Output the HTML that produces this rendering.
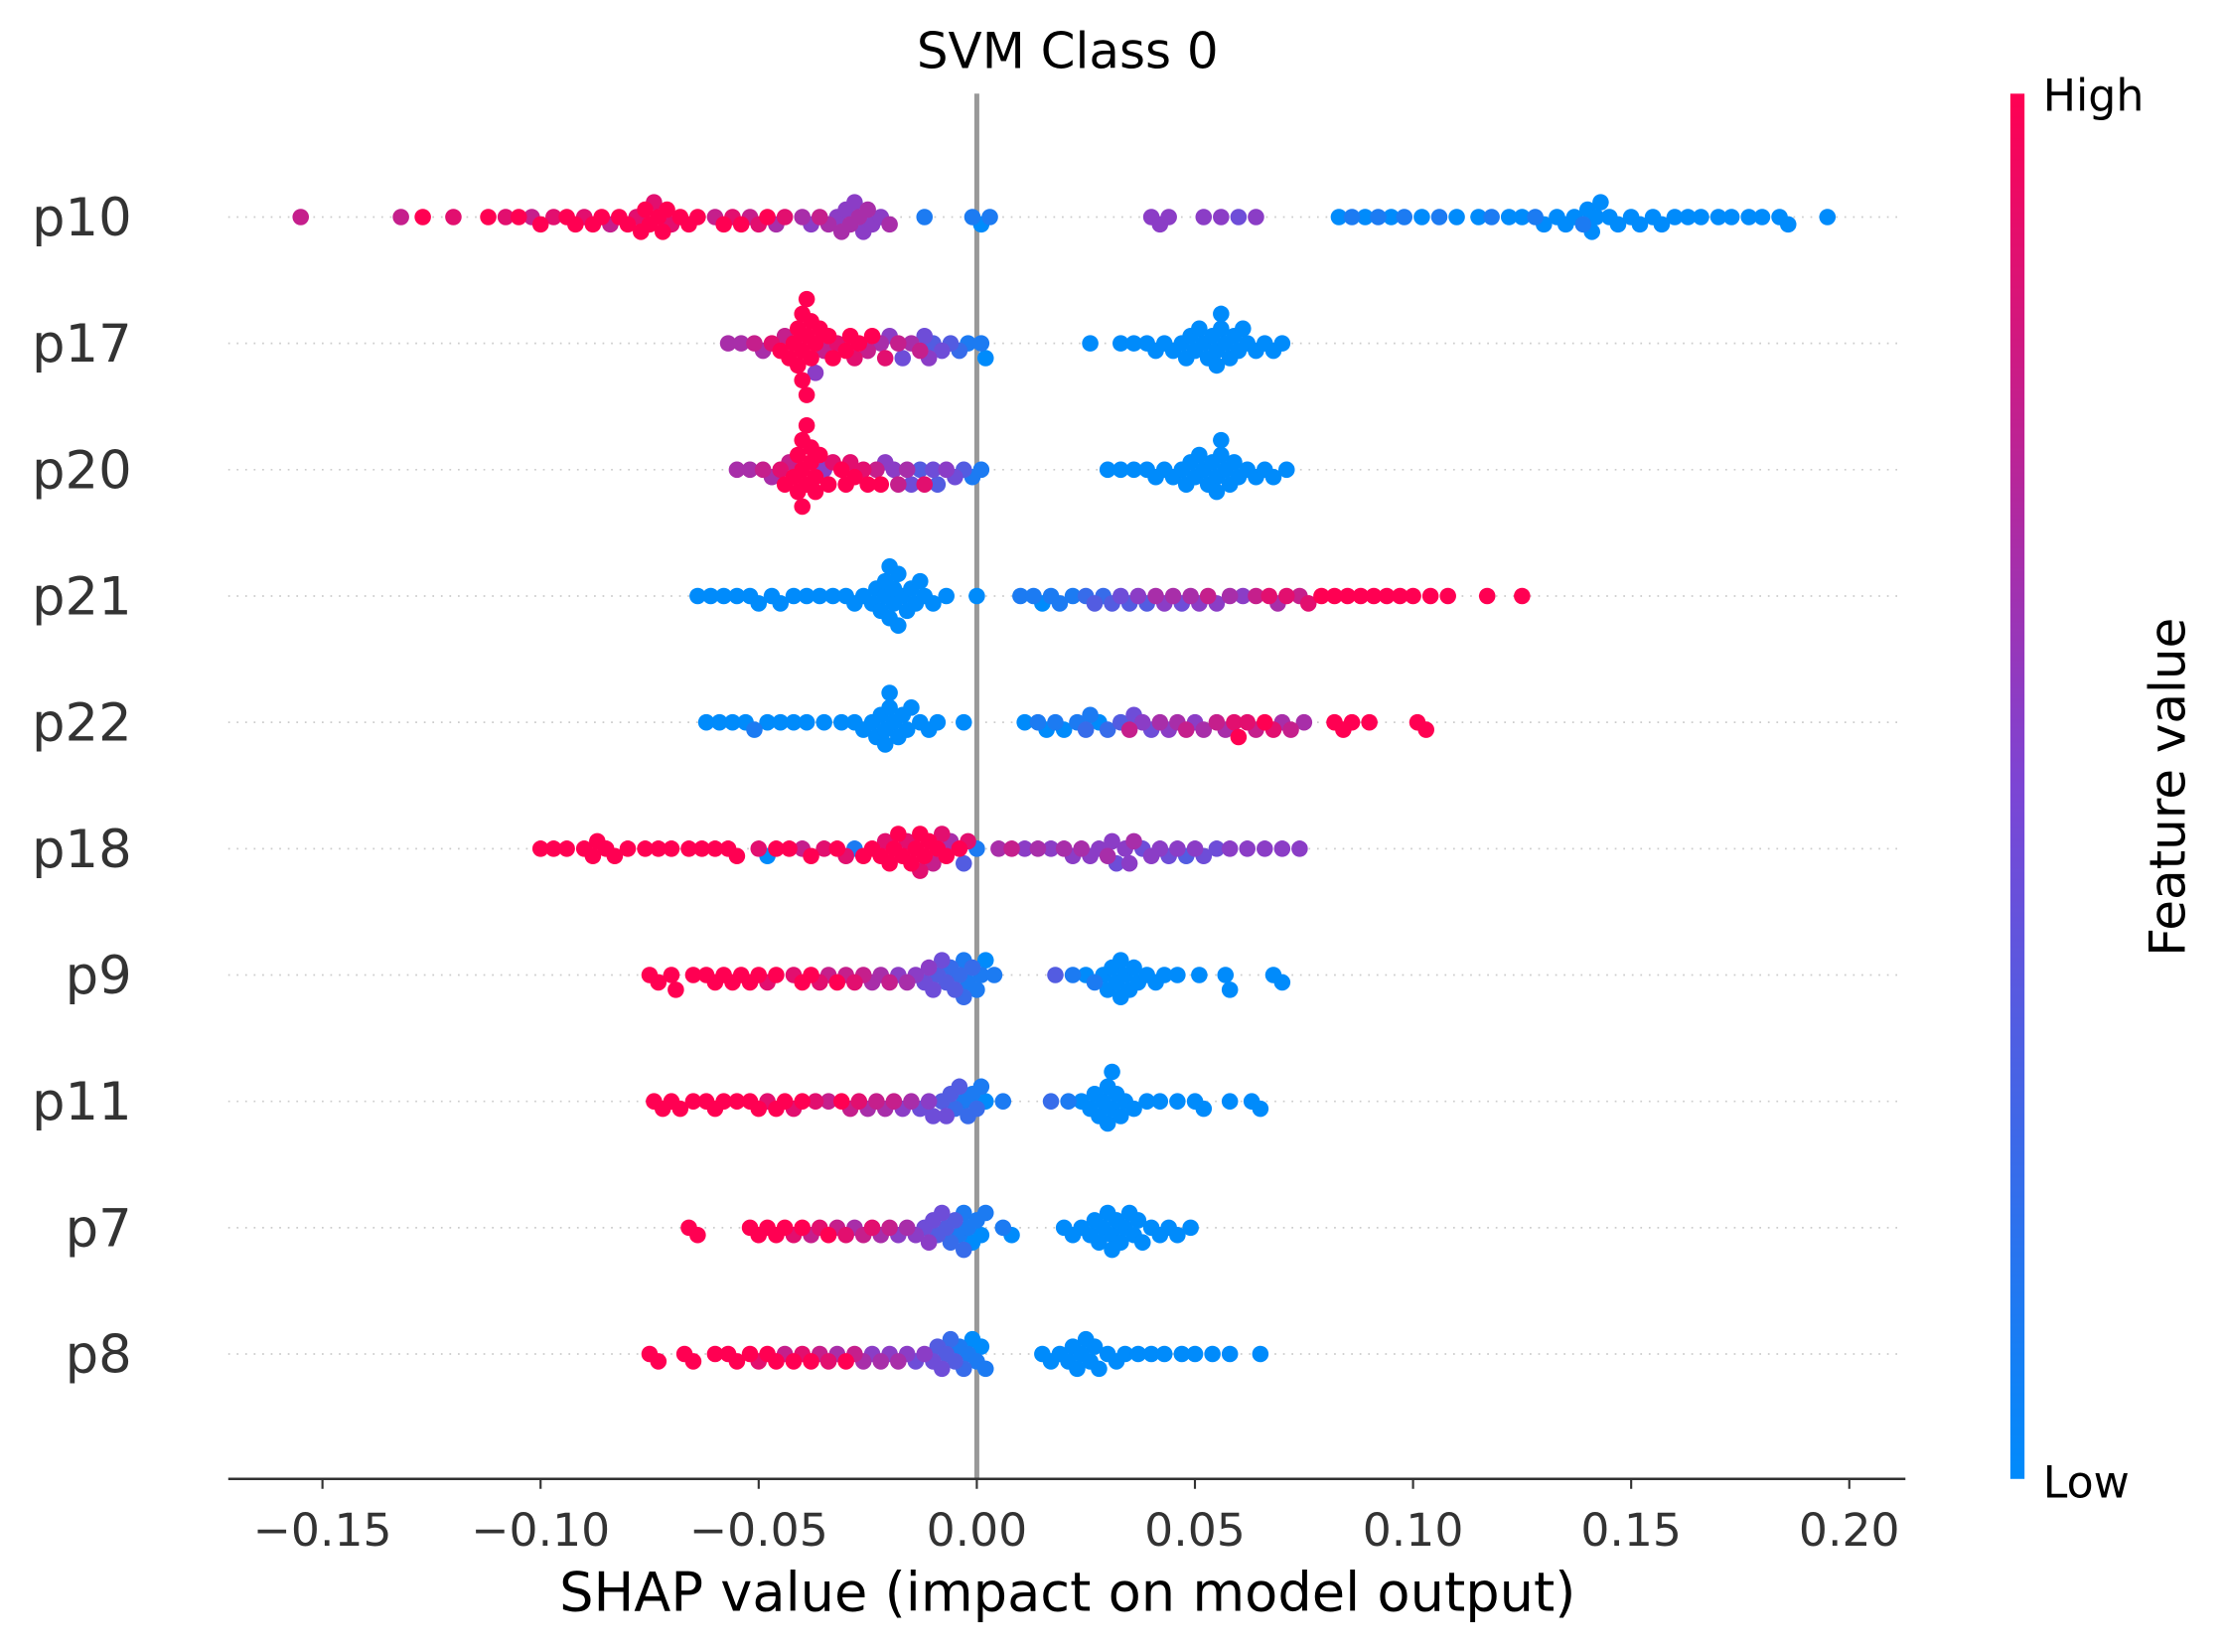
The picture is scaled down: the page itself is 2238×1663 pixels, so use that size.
<!DOCTYPE html>
<html><head><meta charset="utf-8"><style>
html,body{margin:0;padding:0;background:#fff;}
svg{display:block;font-family:"DejaVu Sans","Liberation Sans",sans-serif;}
</style></head><body>
<svg id="chart" width="2238" height="1663" viewBox="0 0 1568 1165" xmlns="http://www.w3.org/2000/svg">
<defs><linearGradient id="cbar" x1="0" y1="1" x2="0" y2="0">
<stop offset="0" stop-color="#008bfb"/><stop offset="0.5" stop-color="#7c45d4"/><stop offset="1" stop-color="#ff0052"/></linearGradient></defs>
<text x="753" y="48" font-size="35" text-anchor="middle" fill="#000">SVM Class 0</text>
<g id="grid"></g>
<line x1="689" y1="66" x2="689" y2="1043" stroke="#999" stroke-width="3.5"/>
<g id="dots"></g>
<g id="axis"></g>
<text x="753" y="1136" font-size="38" text-anchor="middle" fill="#000">SHAP value (impact on model output)</text>
<rect x="1418" y="66" width="10" height="977" fill="url(#cbar)"/>
<text x="1441" y="78" font-size="31" fill="#000">High</text>
<text x="1441" y="1056" font-size="31" fill="#000">Low</text>
<text transform="translate(1541,555) rotate(-90)" font-size="35" text-anchor="middle" fill="#000">Feature value</text>
</svg>
<script>
const features = ["p10","p17","p20","p21","p22","p18","p9","p11","p7","p8"];
const xTicks = [-0.15,-0.10,-0.05,0.00,0.05,0.10,0.15,0.20];
const xTickLabels = ["\u22120.15","\u22120.10","\u22120.05","0.00","0.05","0.10","0.15","0.20"];
// [shap value, feature value 0..9]
const p10 = [[-0.155,7],[-0.132,7],[-0.127,9],[-0.120,8],[-0.112,9],[-0.108,8],[-0.105,9],[-0.102,7],[-0.100,9],[-0.097,8],[-0.094,9],[-0.092,9],[-0.090,8],[-0.088,9],[-0.086,9],[-0.084,7],[-0.082,9],[-0.080,9],[-0.078,8],[-0.077,9],[-0.076,9],[-0.075,9],[-0.074,8],[-0.073,9],[-0.072,9],[-0.071,9],[-0.070,8],[-0.068,9],[-0.066,9],[-0.064,9],[-0.060,7],[-0.058,9],[-0.056,8],[-0.054,9],[-0.052,7],[-0.050,8],[-0.048,9],[-0.046,6],[-0.044,8],[-0.040,6],[-0.038,5],[-0.036,7],[-0.034,6],[-0.032,5],[-0.031,6],[-0.030,5],[-0.029,6],[-0.028,5],[-0.027,6],[-0.026,5],[-0.025,6],[-0.024,5],[-0.022,5],[-0.020,6],[-0.012,1],[-0.001,1],[0.001,0],[0.003,1],[0.040,5],[0.042,5],[0.044,5],[0.052,5],[0.056,5],[0.060,4],[0.064,5],[0.083,0],[0.086,1],[0.089,0],[0.092,1],[0.095,0],[0.098,1],[0.102,0],[0.106,1],[0.110,0],[0.115,0],[0.118,1],[0.122,0],[0.125,0],[0.128,1],[0.130,0],[0.133,0],[0.135,0],[0.137,0],[0.139,1],[0.140,0],[0.141,0],[0.142,0],[0.143,0],[0.145,0],[0.147,0],[0.150,0],[0.152,0],[0.155,0],[0.157,0],[0.160,0],[0.163,0],[0.166,0],[0.170,0],[0.173,0],[0.177,0],[0.180,0],[0.184,0],[0.186,0],[0.195,0]];
const p17 = [[-0.057,6],[-0.054,6],[-0.051,7],[-0.049,6],[-0.047,8],[-0.045,9],[-0.044,7],[-0.043,9],[-0.042,9],[-0.041,9],[-0.041,9],[-0.040,9],[-0.040,9],[-0.040,9],[-0.039,9],[-0.039,9],[-0.039,9],[-0.038,9],[-0.038,9],[-0.037,9],[-0.037,5],[-0.036,9],[-0.035,7],[-0.034,9],[-0.033,9],[-0.032,8],[-0.030,9],[-0.029,9],[-0.028,8],[-0.027,9],[-0.025,7],[-0.024,9],[-0.022,6],[-0.021,8],[-0.020,5],[-0.018,7],[-0.017,4],[-0.015,6],[-0.013,7],[-0.012,4],[-0.011,5],[-0.010,3],[-0.008,4],[-0.006,3],[-0.004,2],[-0.002,1],[0.001,1],[0.002,0],[0.026,0],[0.033,0],[0.036,0],[0.039,0],[0.041,0],[0.043,0],[0.045,0],[0.047,0],[0.048,0],[0.049,0],[0.050,0],[0.051,0],[0.052,0],[0.053,0],[0.054,0],[0.055,0],[0.055,0],[0.056,0],[0.056,0],[0.057,0],[0.058,0],[0.059,0],[0.060,0],[0.061,0],[0.062,0],[0.064,0],[0.066,0],[0.068,0],[0.070,0]];
const p20 = [[-0.055,6],[-0.052,6],[-0.049,7],[-0.047,6],[-0.045,8],[-0.044,9],[-0.043,7],[-0.042,9],[-0.041,9],[-0.041,9],[-0.040,9],[-0.040,9],[-0.040,9],[-0.039,9],[-0.039,9],[-0.038,9],[-0.038,9],[-0.037,9],[-0.037,9],[-0.036,9],[-0.035,5],[-0.034,9],[-0.033,8],[-0.031,9],[-0.030,9],[-0.029,8],[-0.028,9],[-0.026,8],[-0.025,9],[-0.023,7],[-0.022,9],[-0.021,5],[-0.019,5],[-0.018,7],[-0.016,6],[-0.015,4],[-0.013,3],[-0.012,8],[-0.010,4],[-0.009,3],[-0.007,5],[-0.005,4],[-0.003,3],[-0.001,1],[0.001,1],[0.030,0],[0.033,0],[0.036,0],[0.039,0],[0.041,0],[0.043,0],[0.045,0],[0.047,0],[0.048,0],[0.049,0],[0.050,0],[0.051,0],[0.052,0],[0.053,0],[0.054,0],[0.055,0],[0.055,0],[0.056,0],[0.056,0],[0.057,0],[0.058,0],[0.059,0],[0.060,0],[0.062,0],[0.064,0],[0.066,0],[0.068,0],[0.071,0]];
const p21 = [[-0.064,0],[-0.061,0],[-0.058,0],[-0.055,0],[-0.052,0],[-0.050,0],[-0.047,0],[-0.045,0],[-0.042,0],[-0.039,0],[-0.036,0],[-0.033,0],[-0.030,0],[-0.028,0],[-0.026,0],[-0.024,0],[-0.023,0],[-0.022,0],[-0.021,0],[-0.021,0],[-0.020,0],[-0.020,0],[-0.019,0],[-0.019,0],[-0.018,0],[-0.018,0],[-0.017,0],[-0.016,0],[-0.015,0],[-0.014,0],[-0.013,0],[-0.012,0],[-0.010,0],[-0.007,0],[0.000,0],[0.010,1],[0.013,1],[0.015,0],[0.017,1],[0.019,1],[0.022,1],[0.025,2],[0.027,3],[0.029,2],[0.031,3],[0.033,4],[0.035,3],[0.037,5],[0.039,3],[0.041,6],[0.043,5],[0.045,6],[0.047,4],[0.049,6],[0.051,5],[0.053,7],[0.055,5],[0.058,6],[0.061,5],[0.064,7],[0.067,8],[0.069,6],[0.071,8],[0.074,7],[0.076,8],[0.079,9],[0.082,9],[0.085,9],[0.088,9],[0.091,9],[0.094,9],[0.097,9],[0.100,9],[0.104,9],[0.108,9],[0.117,9],[0.125,9]];
const p22 = [[-0.062,0],[-0.059,0],[-0.056,0],[-0.053,0],[-0.051,1],[-0.048,0],[-0.045,0],[-0.042,0],[-0.039,0],[-0.035,0],[-0.031,0],[-0.028,0],[-0.026,0],[-0.024,0],[-0.023,0],[-0.022,0],[-0.021,0],[-0.021,0],[-0.020,0],[-0.020,0],[-0.019,0],[-0.018,0],[-0.017,0],[-0.016,0],[-0.015,0],[-0.013,0],[-0.011,0],[-0.009,0],[-0.003,0],[0.011,0],[0.014,1],[0.016,0],[0.018,1],[0.020,0],[0.023,1],[0.025,2],[0.026,1],[0.028,0],[0.030,2],[0.033,3],[0.035,7],[0.036,4],[0.038,5],[0.040,4],[0.042,6],[0.044,5],[0.046,6],[0.048,7],[0.050,5],[0.052,6],[0.055,7],[0.057,6],[0.059,8],[0.060,9],[0.062,8],[0.064,7],[0.066,9],[0.068,8],[0.070,6],[0.072,7],[0.075,6],[0.082,9],[0.084,9],[0.086,9],[0.090,9],[0.101,9],[0.103,9]];
const p18 = [[-0.100,9],[-0.097,9],[-0.094,9],[-0.090,9],[-0.088,9],[-0.087,9],[-0.085,9],[-0.083,9],[-0.080,9],[-0.076,9],[-0.073,9],[-0.070,9],[-0.066,9],[-0.063,9],[-0.060,9],[-0.057,9],[-0.055,9],[-0.050,8],[-0.048,0],[-0.046,9],[-0.043,9],[-0.040,7],[-0.038,9],[-0.035,8],[-0.032,9],[-0.030,8],[-0.028,1],[-0.026,9],[-0.024,9],[-0.022,9],[-0.021,8],[-0.020,9],[-0.019,9],[-0.018,9],[-0.017,9],[-0.016,8],[-0.015,9],[-0.014,9],[-0.013,9],[-0.013,8],[-0.012,9],[-0.011,9],[-0.010,7],[-0.009,9],[-0.008,8],[-0.007,9],[-0.006,6],[-0.004,9],[-0.003,3],[-0.002,8],[0.000,1],[0.005,6],[0.008,7],[0.011,5],[0.014,6],[0.017,5],[0.020,6],[0.022,5],[0.024,6],[0.026,5],[0.028,5],[0.030,6],[0.031,5],[0.032,4],[0.034,5],[0.035,5],[0.036,6],[0.038,4],[0.040,5],[0.042,5],[0.044,4],[0.046,5],[0.048,3],[0.050,5],[0.052,4],[0.055,4],[0.058,5],[0.062,5],[0.066,5],[0.070,5],[0.074,5]];
const p9 = [[-0.075,9],[-0.073,9],[-0.070,9],[-0.069,9],[-0.065,9],[-0.062,9],[-0.060,9],[-0.058,9],[-0.056,9],[-0.054,9],[-0.052,9],[-0.050,9],[-0.048,8],[-0.046,9],[-0.042,8],[-0.040,9],[-0.038,9],[-0.036,8],[-0.034,7],[-0.032,9],[-0.030,7],[-0.028,8],[-0.026,7],[-0.024,6],[-0.022,6],[-0.020,7],[-0.018,5],[-0.016,6],[-0.014,5],[-0.012,4],[-0.011,5],[-0.010,4],[-0.009,3],[-0.008,4],[-0.007,3],[-0.006,2],[-0.005,3],[-0.004,2],[-0.003,1],[-0.003,2],[-0.002,1],[-0.001,2],[0.000,1],[0.001,1],[0.002,0],[0.004,1],[0.018,3],[0.022,1],[0.025,0],[0.027,1],[0.029,0],[0.030,0],[0.031,0],[0.032,0],[0.033,0],[0.033,0],[0.034,0],[0.035,0],[0.036,0],[0.037,0],[0.039,0],[0.041,0],[0.043,0],[0.046,0],[0.051,0],[0.057,0],[0.058,0],[0.068,0],[0.070,0]];
const p11 = [[-0.074,9],[-0.072,9],[-0.070,9],[-0.068,9],[-0.065,9],[-0.062,9],[-0.060,9],[-0.058,9],[-0.055,9],[-0.052,9],[-0.050,9],[-0.048,8],[-0.046,9],[-0.044,9],[-0.042,8],[-0.040,9],[-0.037,8],[-0.034,7],[-0.031,9],[-0.029,7],[-0.027,8],[-0.025,6],[-0.023,7],[-0.021,6],[-0.019,7],[-0.017,5],[-0.015,6],[-0.013,4],[-0.011,5],[-0.010,4],[-0.008,3],[-0.007,4],[-0.006,3],[-0.005,2],[-0.004,3],[-0.003,1],[-0.002,2],[-0.001,1],[0.000,2],[0.001,1],[0.002,0],[0.006,1],[0.017,2],[0.021,1],[0.024,0],[0.026,0],[0.027,0],[0.028,0],[0.029,0],[0.030,0],[0.030,0],[0.031,0],[0.031,0],[0.032,0],[0.033,0],[0.034,0],[0.036,0],[0.039,0],[0.042,0],[0.046,0],[0.050,0],[0.052,0],[0.058,0],[0.063,0],[0.065,0]];
const p7 = [[-0.066,9],[-0.064,9],[-0.052,9],[-0.050,9],[-0.048,9],[-0.046,9],[-0.044,9],[-0.042,8],[-0.040,9],[-0.038,7],[-0.036,8],[-0.034,9],[-0.032,7],[-0.030,8],[-0.028,6],[-0.026,7],[-0.024,8],[-0.022,6],[-0.020,7],[-0.018,5],[-0.016,6],[-0.014,5],[-0.012,4],[-0.011,5],[-0.010,4],[-0.009,3],[-0.008,4],[-0.007,3],[-0.006,2],[-0.005,3],[-0.004,1],[-0.003,1],[-0.003,2],[-0.002,1],[-0.001,0],[0.000,1],[0.001,0],[0.002,1],[0.006,1],[0.008,0],[0.020,0],[0.022,0],[0.024,0],[0.026,0],[0.027,0],[0.028,0],[0.029,0],[0.030,0],[0.031,0],[0.031,0],[0.032,0],[0.033,0],[0.034,0],[0.035,0],[0.036,0],[0.037,0],[0.038,0],[0.040,0],[0.042,0],[0.044,0],[0.046,0],[0.049,0]];
const p8 = [[-0.075,9],[-0.073,9],[-0.067,9],[-0.065,9],[-0.060,9],[-0.057,9],[-0.055,9],[-0.052,9],[-0.050,8],[-0.048,9],[-0.046,9],[-0.044,7],[-0.042,9],[-0.040,8],[-0.038,9],[-0.036,7],[-0.034,8],[-0.032,6],[-0.030,9],[-0.028,7],[-0.026,6],[-0.024,5],[-0.022,6],[-0.020,5],[-0.018,6],[-0.016,5],[-0.014,4],[-0.012,5],[-0.010,4],[-0.009,3],[-0.008,4],[-0.007,3],[-0.006,2],[-0.005,3],[-0.004,1],[-0.003,2],[-0.002,1],[-0.001,0],[0.000,1],[0.001,0],[0.002,1],[0.015,0],[0.017,0],[0.019,0],[0.021,0],[0.022,0],[0.023,0],[0.024,0],[0.025,0],[0.026,0],[0.027,0],[0.028,0],[0.030,0],[0.032,0],[0.034,0],[0.037,0],[0.040,0],[0.043,0],[0.047,0],[0.050,0],[0.054,0],[0.058,0],[0.065,0]];
const rowData = [p10,p17,p20,p21,p22,p18,p9,p11,p7,p8];

const NS = "http://www.w3.org/2000/svg";
const X0 = 689, XS = 3077, Y0 = 153, YS = 89.1, R = 5.8;
function xScale(v){ return X0 + v*XS; }
function yScale(i){ return Y0 + i*YS; }
function color(f){
  const t = f/9;
  const a=[0,139,251], m=[124,69,212], b=[255,0,82];
  let c;
  if(t<0.5){const u=t/0.5; c=a.map((x,k)=>Math.round(x+(m[k]-x)*u));}
  else {const u=(t-0.5)/0.5; c=m.map((x,k)=>Math.round(x+(b[k]-x)*u));}
  return "rgb("+c.join(",")+")";
}
const grid = document.getElementById("grid");
const dots = document.getElementById("dots");
const axis = document.getElementById("axis");
features.forEach((name,i)=>{
  const y = yScale(i);
  const gl = document.createElementNS(NS,"line");
  
  
  gl.setAttribute("x1",161); gl.setAttribute("x2",1340);
  gl.setAttribute("y1",y); gl.setAttribute("y2",y);
  gl.setAttribute("stroke","#ccc"); gl.setAttribute("stroke-width","1.2");
  gl.setAttribute("stroke-dasharray","1.2,4.8");
  grid.appendChild(gl);
  const lab = document.createElementNS(NS,"text");
  
  
  lab.setAttribute("x",93); lab.setAttribute("y",y+13);
  lab.setAttribute("font-size","37"); lab.setAttribute("text-anchor","end");
  lab.setAttribute("fill","#333");
  lab.textContent = name;
  axis.appendChild(lab);
  const pts = rowData[i].map(p=>({x:xScale(p[0]), f:p[1]}));
  const placed = [];
  const order = pts.slice().sort((a,b)=>a.x-b.x);
  const dy = 5.2, minD = 7.6;
  order.forEach(p=>{
    let k=0, off=0;
    while(true){
      off = (k===0)?0:(k%2===1? Math.ceil(k/2)*dy : -Math.ceil(k/2)*dy);
      const ok = placed.every(q=>{const ddx=q.x-p.x, ddy=q.off-off; return ddx*ddx+ddy*ddy >= minD*minD;});
      if(ok||k>20) break;
      k++;
    }
    p.off = off; placed.push(p);
  });
  placed.sort((a,b)=>a.f-b.f);
  placed.forEach(p=>{
    const c = document.createElementNS(NS,"circle");
    
    
    c.setAttribute("cx",p.x.toFixed(1)); c.setAttribute("cy",(y+p.off).toFixed(1));
    c.setAttribute("r",R); c.setAttribute("fill",color(p.f));
    dots.appendChild(c);
  });
});
const ax = document.createElementNS(NS,"line");


ax.setAttribute("x1",161); ax.setAttribute("x2",1344); ax.setAttribute("y1",1043); ax.setAttribute("y2",1043);
ax.setAttribute("stroke","#333"); ax.setAttribute("stroke-width","1.8");
axis.appendChild(ax);
xTicks.forEach((v,j)=>{
  const x = xScale(v);
  const t = document.createElementNS(NS,"line");
  
  
  t.setAttribute("x1",x); t.setAttribute("x2",x); t.setAttribute("y1",1043); t.setAttribute("y2",1050);
  t.setAttribute("stroke","#333"); t.setAttribute("stroke-width","1.5");
  axis.appendChild(t);
  const l = document.createElementNS(NS,"text");
  
  
  l.setAttribute("x",x); l.setAttribute("y",1090);
  l.setAttribute("font-size","32"); l.setAttribute("text-anchor","middle"); l.setAttribute("fill","#333");
  l.textContent = xTickLabels[j];
  axis.appendChild(l);
});
</script>
</body></html>
